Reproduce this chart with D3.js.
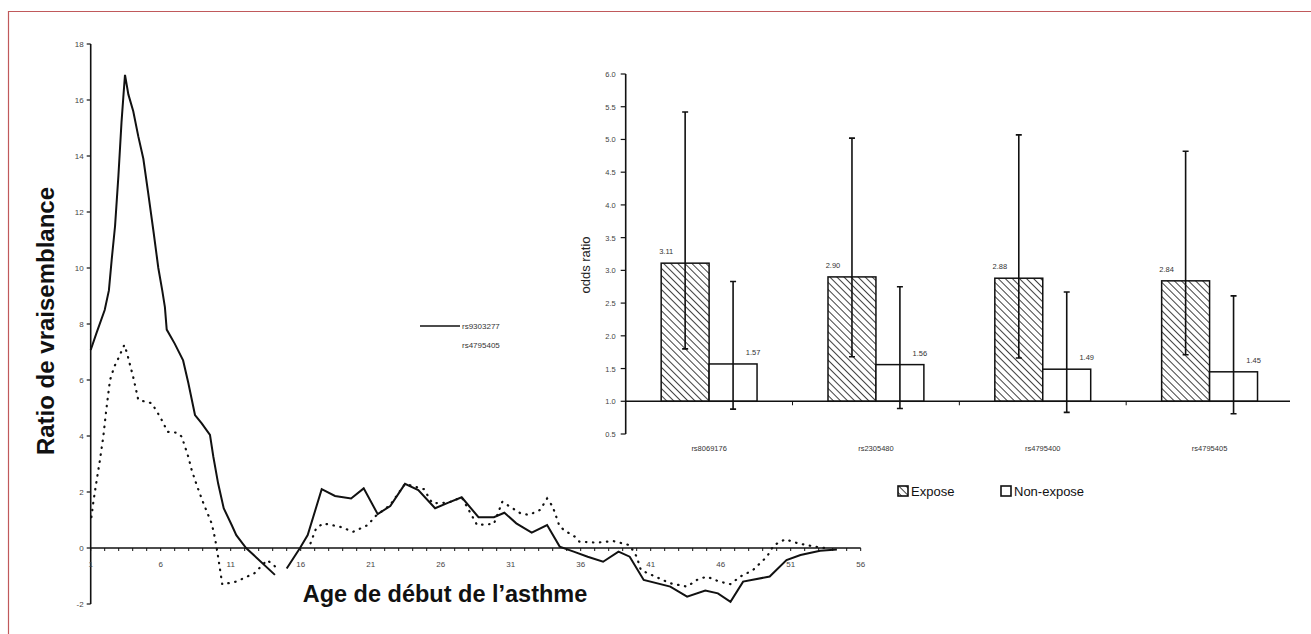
<!DOCTYPE html>
<html>
<head>
<meta charset="utf-8">
<script src="https://cdnjs.cloudflare.com/ajax/libs/d3/7.8.5/d3.min.js"></script>
<style>
  body { margin: 0; background: #fff; }
  svg { display: block; font-family: "Liberation Sans", Arial, sans-serif; }
</style>
</head>
<body>
<div id="content"></div>
<script>
// left panel: likelihood ratio by age at onset (vertices, null = gap)
const ageSolid = [1.0, 1.43, 2.0, 2.3, 2.5, 2.74, 2.98, 3.2, 3.33, 3.45, 3.69, 4.04, 4.4, 4.76, 5.1,
  5.5, 5.83, 6.11, 6.3, 6.43, 7.0, 7.6, 7.97, 8.45, 8.93, 9.52, 9.76, 10.1, 10.5, 11.07, 11.4, 12.1,
  14.16, 14.6, 15.0, 15.95, 16.5, 17.5, 18.45, 19.6, 20.5, 21.5, 22.4, 23.45, 24.4, 25.6, 26.55,
  27.5, 28.7, 29.8, 30.55, 31.4, 32.5, 33.6, 34.5, 35.5, 36.5, 37.6, 38.7, 39.5, 40.5, 42.4, 43.6,
  44.9, 45.8, 46.7, 47.6, 49.5, 50.7, 51.7, 53.1, 54.3];
const lrSolid = [7.07, 7.7, 8.5, 9.2, 10.3, 11.5, 13.3, 15.2, 16.1, 16.9, 16.2, 15.6, 14.7, 13.9, 12.7,
  11.25, 10.0, 9.2, 8.6, 7.8, 7.3, 6.7, 5.9, 4.75, 4.45, 4.04, 3.26, 2.31, 1.42, 0.82, 0.46, 0,
  -0.96, null, -0.73, 0, 0.46, 2.1, 1.86, 1.77, 2.13, 1.21, 1.5, 2.29, 2.07, 1.42, 1.62,
  1.81, 1.1, 1.1, 1.26, 0.88, 0.55, 0.82, 0.05, -0.13, -0.31, -0.49, -0.13, -0.31, -1.14, -1.38, -1.74,
  -1.52, -1.62, -1.92, -1.2, -1.02, -0.43, -0.25, -0.1, -0.05];

const ageDot = [1.05, 1.19, 1.43, 1.66, 1.9, 2.14, 2.38, 2.69, 2.97, 3.4, 3.57, 4.04, 4.4, 5.36, 5.95,
  6.5, 7.14, 7.5, 7.97, 8.21, 8.57, 9.05, 9.64, 9.88, 10.1, 10.4, 11.4, 12.7, 13.6, 14.2, 15.4,
  16.7, 17.1, 17.6, 18.8, 19.75, 20.8, 21.3, 22.4, 23.45, 24.8, 25.4, 26.55, 27.5, 28.6, 29.8,
  30.4, 31.7, 32.3, 33.1, 33.6, 34.0, 34.5, 35.0, 35.6, 35.9, 37.1, 38.3, 39.5, 40.0, 40.3, 42.4,
  43.6, 44.3, 45.0, 45.9, 46.7, 47.4, 48.3, 49.3, 49.8, 50.6, 51.5, 52.7, 53.4];
const lrDot = [1.1, 1.65, 2.43, 3.14, 3.98, 5.05, 6.0, 6.48, 6.77, 7.25, 7.0, 6.1, 5.29, 5.17, 4.69,
  4.15, 4.12, 3.98, 3.26, 2.79, 2.25, 1.6, 0.88, 0.35, -0.31, -1.3, -1.2, -0.9, -0.43, -0.67, null,
  0.17, 0.7, 0.88, 0.76, 0.58, 0.82, 1.12, 1.54, 2.29, 2.1, 1.6, 1.62, 1.81, 0.82, 0.86,
  1.65, 1.24, 1.18, 1.36, 1.77, 1.48, 0.76, 0.58, 0.4, 0.23, 0.19, 0.25, 0.1, -0.31, -0.79, -1.26,
  -1.38, -1.14, -1.02, -1.2, -1.29, -1.02, -0.79, -0.31, 0.1, 0.31, 0.17, 0.05, 0];

const lrTicks = [-2, 0, 2, 4, 6, 8, 10, 12, 14, 16, 18];
const ageTicks = [1, 6, 11, 16, 21, 26, 31, 36, 41, 46, 51, 56];
const lineNames = ['rs9303277', 'rs4795405'];

// right panel: odds ratios with confidence intervals
const snps = ['rs8069176', 'rs2305480', 'rs4795400', 'rs4795405'];
const groups = ['Expose', 'Non-expose'];
const orExpose = [3.11, 2.90, 2.88, 2.84];
const orNonExpose = [1.57, 1.56, 1.49, 1.45];
const ciExposeLow = [1.80, 1.68, 1.66, 1.71];
const ciExposeHigh = [5.42, 5.02, 5.07, 4.82];
const ciNonLow = [0.88, 0.89, 0.83, 0.81];
const ciNonHigh = [2.83, 2.75, 2.67, 2.61];
const orTicks = [0.5, 1.0, 1.5, 2.0, 2.5, 3.0, 3.5, 4.0, 4.5, 5.0, 5.5, 6.0];

const W = 1311, H = 634;
const svg = d3.select('#content').append('svg')
  .attr('width', W)
  .attr('height', H);

// back-slash hatching for the exposed bars
const defs = svg.append('defs');
const hatch = defs.append('pattern')
  .attr('id', 'hatch')
  .attr('patternUnits', 'userSpaceOnUse')
  .attr('width', 5)
  .attr('height', 5)
  .attr('patternTransform', 'rotate(-45)');
hatch.append('rect').attr('width', 5).attr('height', 5).attr('fill', '#fff');
hatch.append('line')
  .attr('x1', 0).attr('y1', 0).attr('x2', 0).attr('y2', 5)
  .attr('stroke', '#111').attr('stroke-width', 1.6);

// frame (only top and left edges show in the figure)
svg.append('path')
  .attr('d', `M8.5,${H} V11.5 H${W}`)
  .attr('fill', 'none')
  .attr('stroke', '#c0595b')
  .attr('stroke-width', 1.2);

// ---------- left chart ----------
const x = d3.scaleLinear().domain([1, 56]).range([90.7, 860.7]);
const y = d3.scaleLinear().domain([-2, 18]).range([604, 44]);
const left = svg.append('g');

// y axis
left.append('line')
  .attr('x1', x(1)).attr('x2', x(1))
  .attr('y1', y(18)).attr('y2', y(-2))
  .attr('stroke', '#111').attr('stroke-width', 1.6);
left.selectAll('line.ytick').data(lrTicks).enter().append('line')
  .attr('class', 'ytick')
  .attr('x1', x(1) - 4).attr('x2', x(1))
  .attr('y1', d => y(d)).attr('y2', d => y(d))
  .attr('stroke', '#111').attr('stroke-width', 1.2);
left.selectAll('text.ylab').data(lrTicks).enter().append('text')
  .attr('class', 'ylab')
  .attr('x', x(1) - 7)
  .attr('y', d => y(d) + 3)
  .attr('text-anchor', 'end')
  .attr('font-size', 8)
  .attr('fill', '#444')
  .text(d => d);

// x axis on zero
left.append('line')
  .attr('x1', x(1)).attr('x2', x(56))
  .attr('y1', y(0)).attr('y2', y(0))
  .attr('stroke', '#111').attr('stroke-width', 1.6);
left.selectAll('line.xtick').data(d3.range(1, 57)).enter().append('line')
  .attr('class', 'xtick')
  .attr('x1', d => x(d)).attr('x2', d => x(d))
  .attr('y1', y(0)).attr('y2', y(0) + 3)
  .attr('stroke', '#111').attr('stroke-width', 1);
left.selectAll('text.xlab').data(ageTicks).enter().append('text')
  .attr('class', 'xlab')
  .attr('x', d => x(d))
  .attr('y', y(0) + 19)
  .attr('text-anchor', 'middle')
  .attr('font-size', 8)
  .attr('fill', '#444')
  .text(d => d);

const line = d3.line()
  .defined(d => d[1] !== null)
  .x(d => x(d[0]))
  .y(d => y(d[1]));

left.append('path')
  .datum(ageDot.map((a, i) => [a, lrDot[i]]))
  .attr('d', line)
  .attr('fill', 'none')
  .attr('stroke', '#111')
  .attr('stroke-width', 2.2)
  .attr('stroke-linecap', 'round')
  .attr('stroke-dasharray', '0.5,6.5');

left.append('path')
  .datum(ageSolid.map((a, i) => [a, lrSolid[i]]))
  .attr('d', line)
  .attr('fill', 'none')
  .attr('stroke', '#111')
  .attr('stroke-width', 2);

// legend
left.append('line')
  .attr('x1', 420).attr('x2', 460)
  .attr('y1', 326).attr('y2', 326)
  .attr('stroke', '#111').attr('stroke-width', 1.6);
left.selectAll('text.leg').data(lineNames).enter().append('text')
  .attr('class', 'leg')
  .attr('x', 462)
  .attr('y', (d, i) => 329 + i * 19)
  .attr('font-size', 8)
  .attr('fill', '#333')
  .text(d => d);

// axis titles
left.append('text')
  .attr('transform', 'translate(54, 321) rotate(-90)')
  .attr('text-anchor', 'middle')
  .attr('font-size', 24)
  .attr('font-weight', 'bold')
  .attr('fill', '#111')
  .text('Ratio de vraisemblance');
left.append('text')
  .attr('x', 445)
  .attr('y', 602)
  .attr('text-anchor', 'middle')
  .attr('font-size', 23.5)
  .attr('font-weight', 'bold')
  .attr('fill', '#111')
  .text('Age de début de l\u2019asthme');

// ---------- right chart ----------
const xb = d3.scaleBand().domain(snps).range([625.7, 1293]);
const xg = d3.scaleBand().domain(groups).range([0, xb.bandwidth()]).paddingOuter(0.74);
const yb = d3.scaleLinear().domain([0.5, 6.0]).range([434, 74]);
const right = svg.append('g');

right.append('line')
  .attr('x1', xb.range()[0]).attr('x2', xb.range()[0])
  .attr('y1', yb(6)).attr('y2', yb(0.5))
  .attr('stroke', '#111').attr('stroke-width', 1.6);
right.selectAll('line.ytick').data(orTicks).enter().append('line')
  .attr('class', 'ytick')
  .attr('x1', xb.range()[0] - 5).attr('x2', xb.range()[0])
  .attr('y1', d => yb(d)).attr('y2', d => yb(d))
  .attr('stroke', '#111').attr('stroke-width', 1.2);
right.selectAll('text.ylab').data(orTicks).enter().append('text')
  .attr('class', 'ylab')
  .attr('x', xb.range()[0] - 10)
  .attr('y', d => yb(d) + 3)
  .attr('text-anchor', 'end')
  .attr('font-size', 7.5)
  .attr('fill', '#444')
  .text(d => d.toFixed(1));

right.append('text')
  .attr('transform', 'translate(590, 265) rotate(-90)')
  .attr('text-anchor', 'middle')
  .attr('font-size', 13)
  .attr('fill', '#222')
  .text('odds ratio');

const rows = snps.map((s, i) => ({
  snp: s,
  bars: [
    {g: 'Expose', v: orExpose[i], lo: ciExposeLow[i], hi: ciExposeHigh[i]},
    {g: 'Non-expose', v: orNonExpose[i], lo: ciNonLow[i], hi: ciNonHigh[i]},
  ],
}));

const grp = right.selectAll('g.snp').data(rows).enter().append('g')
  .attr('class', 'snp')
  .attr('transform', d => `translate(${xb(d.snp)}, 0)`);

grp.selectAll('rect').data(d => d.bars).enter().append('rect')
  .attr('x', d => xg(d.g))
  .attr('y', d => yb(d.v))
  .attr('width', xg.bandwidth())
  .attr('height', d => yb(1) - yb(d.v))
  .attr('fill', d => d.g === 'Expose' ? 'url(#hatch)' : '#fff')
  .attr('stroke', '#111')
  .attr('stroke-width', 1.5);

grp.selectAll('text.val').data(d => d.bars).enter().append('text')
  .attr('class', 'val')
  .attr('x', d => d.g === 'Expose' ? xg(d.g) + 5 : xg(d.g) + xg.bandwidth() - 4)
  .attr('y', d => yb(d.v) - 9)
  .attr('text-anchor', 'middle')
  .attr('font-size', 7.5)
  .attr('fill', '#333')
  .text(d => d.v.toFixed(2));

// error bars
const ebx = d => xg(d.g) + xg.bandwidth() / 2;
grp.selectAll('path.err').data(d => d.bars).enter().append('path')
  .attr('class', 'err')
  .attr('d', d => `M${ebx(d)},${yb(d.lo)} V${yb(d.hi)}` +
    ` M${ebx(d) - 3},${yb(d.hi)} H${ebx(d) + 3}` +
    ` M${ebx(d) - 3},${yb(d.lo)} H${ebx(d) + 3}`)
  .attr('fill', 'none')
  .attr('stroke', '#111')
  .attr('stroke-width', 1.6);

// x axis at OR = 1
right.append('line')
  .attr('x1', xb.range()[0]).attr('x2', 1290)
  .attr('y1', yb(1)).attr('y2', yb(1))
  .attr('stroke', '#111').attr('stroke-width', 1.6);
right.selectAll('line.xtick').data(snps.slice(1)).enter().append('line')
  .attr('class', 'xtick')
  .attr('x1', d => xb(d)).attr('x2', d => xb(d))
  .attr('y1', yb(1)).attr('y2', yb(1) + 4)
  .attr('stroke', '#111').attr('stroke-width', 1);
right.selectAll('text.xlab').data(snps).enter().append('text')
  .attr('class', 'xlab')
  .attr('x', d => xb(d) + xb.bandwidth() / 2)
  .attr('y', 451)
  .attr('text-anchor', 'middle')
  .attr('font-size', 7.5)
  .attr('fill', '#333')
  .text(d => d);

// legend
const legX = [898, 1001];
const leg = right.selectAll('g.leg').data(groups).enter().append('g')
  .attr('class', 'leg')
  .attr('transform', (d, i) => `translate(${legX[i]}, 486)`);
leg.append('rect')
  .attr('width', 10).attr('height', 10)
  .attr('fill', d => d === 'Expose' ? 'url(#hatch)' : '#fff')
  .attr('stroke', '#111').attr('stroke-width', 1.6);
leg.append('text')
  .attr('x', 13)
  .attr('y', 10)
  .attr('font-size', 13)
  .attr('fill', '#111')
  .text(d => d);
</script>
</body>
</html>
